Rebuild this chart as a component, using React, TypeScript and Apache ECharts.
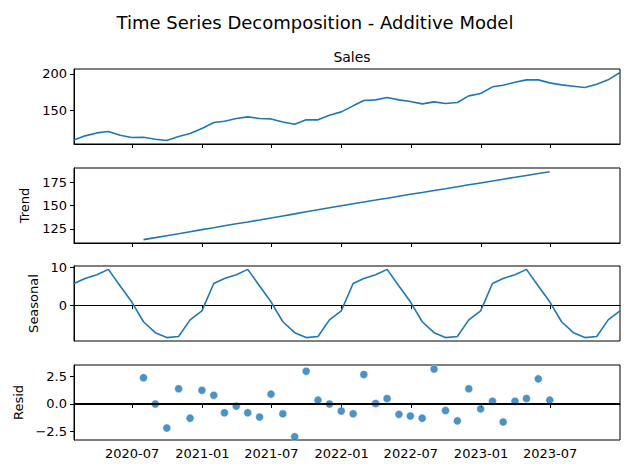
import React, { useRef, useEffect } from 'react'
import * as echarts from 'echarts'

// monthly, month-end dates 2020-01 .. 2023-12
const dates: string[] = []
for (let y = 2020; y <= 2023; y++) {
  for (let m = 1; m <= 12; m++) {
    const d = new Date(Date.UTC(y, m, 0))
    dates.push(d.toISOString().slice(0, 10))
  }
}

const sales = [
  110, 115.5, 119.5, 121.4, 116.4, 113.2, 113.6, 110.9, 109.1, 114.5, 118.6, 125.5,
  133.6, 135.5, 139.1, 141.4, 139.1, 138.6, 134.5, 131.4, 137.3, 137.3, 143.6, 148.2,
  156.4, 163.6, 164.5, 167.7, 164.5, 162.3, 159.1, 161.8, 159.5, 160.9, 170, 173.2,
  182.3, 184.5, 188.6, 191.8, 191.8, 187.7, 185, 183.2, 181.4, 185.9, 191.8, 201.8
]

// trend only defined from index 6 to 41
const trendStart = 6
const trend = [
  113.7, 115.8, 117.9, 120, 122.1, 124.3, 126.4, 128.4, 130.5, 132.5, 134.6, 136.7,
  138.9, 141.1, 143.3, 145.4, 147.6, 149.8, 151.8, 153.8, 155.8, 157.8, 159.9, 161.9,
  163.9, 165.9, 167.9, 170, 172, 174, 176, 178, 180, 182, 184, 186
]

const seasonalCycle = [5.75, 7.1, 8.1, 9.5, 5.1, 0.9, -4.4, -7.3, -8.6, -8.3, -3.9, -1.5]

const resid = [
  2.4, 0, -2.2, 1.4, -1.3, 1.25, 0.8, -0.8, -0.2, -0.8, -1.2, 0.9,
  -0.9, -3.0, 3.0, 0.35, 0, -0.65, -0.9, 2.7, 0.05, 0.5, -0.95, -1.1,
  -1.3, 3.2, -0.6, -1.55, 1.4, -0.45, 0.25, -1.65, 0.25, 0.5, 2.3, 0.35
]

const xTicks = ['2020-07-01', '2021-01-01', '2021-07-01', '2022-01-01', '2022-07-01', '2023-01-01', '2023-07-01']

const BLUE = '#1f77b4'
const FONT = 'DejaVu Sans'
const ts = (d: string) => new Date(d + 'T00:00:00Z').getTime()

const App: React.FC = () => {
  const chartRef = useRef<HTMLDivElement>(null)

  useEffect(() => {
    document.body.style.margin = '0'
    if (!chartRef.current) return
    const chart = echarts.init(chartRef.current, null, { renderer: 'svg' })

    const tops = [69, 168, 266, 365]
    const grids = tops.map(t => ({
      left: 74, top: t, width: 546, height: 75,
      show: true, borderColor: '#000', borderWidth: 1, backgroundColor: 'transparent'
    }))

    const xMin = ts(dates[0])
    const xMax = ts(dates[dates.length - 1])
    const tickVals = xTicks.map(ts)

    const xAxes = grids.map((_, i) => ({
      type: 'value', gridIndex: i, min: xMin, max: xMax,
      axisLine: { show: true, lineStyle: { color: '#000' } },
      axisTick: { show: true, length: 4, lineStyle: { color: '#000' }, customValues: tickVals },
      axisLabel: {
        show: i === 3, color: '#000', fontSize: 13, fontFamily: FONT, margin: 7,
        customValues: tickVals,
        formatter: (v: number) => {
          const d = new Date(v)
          return d.getUTCFullYear() + '-' + String(d.getUTCMonth() + 1).padStart(2, '0')
        }
      },
      splitLine: { show: false }
    }))

    const yDefs = [
      { min: 104.4, max: 206.6, ticks: [150, 200], name: '', fmt: (v: number) => String(v) },
      { min: 110.1, max: 189.9, ticks: [125, 150, 175], name: 'Trend', fmt: (v: number) => String(v) },
      { min: -9.5, max: 10.4, ticks: [0, 10], name: 'Seasonal', fmt: (v: number) => String(v) },
      { min: -3.3, max: 3.57, ticks: [-2.5, 0, 2.5], name: 'Resid', fmt: (v: number) => (v < 0 ? '−' : '') + Math.abs(v).toFixed(1) }
    ]
    const yAxes = yDefs.map((y, i) => ({
      type: 'value', gridIndex: i, min: y.min, max: y.max,
      name: y.name, nameLocation: 'middle', nameGap: i === 2 ? 30 : 42, nameRotate: 90,
      nameTextStyle: { color: '#000', fontSize: 13, fontFamily: FONT },
      axisLine: { show: true, lineStyle: { color: '#000' } },
      axisTick: { show: true, length: 4, lineStyle: { color: '#000' }, customValues: y.ticks },
      axisLabel: { color: '#000', fontSize: 13, fontFamily: FONT, margin: 7, customValues: y.ticks, formatter: y.fmt },
      splitLine: { show: false }
    }))

    const lineStyle = { color: BLUE, width: 1.6 }
    const option = {
      animation: false,
      title: [
        { text: 'Time Series Decomposition - Additive Model', left: 'center', top: 8,
          textStyle: { fontSize: 18, fontWeight: 'normal', color: '#000', fontFamily: FONT } },
        { text: 'Sales', left: 347, top: 45, textAlign: 'center',
          textStyle: { fontSize: 14, fontWeight: 'normal', color: '#000', fontFamily: FONT } }
      ],
      grid: grids,
      xAxis: xAxes,
      yAxis: yAxes,
      series: [
        { type: 'line', xAxisIndex: 0, yAxisIndex: 0, showSymbol: false, lineStyle,
          data: dates.map((d, i) => [ts(d), sales[i]]) },
        { type: 'line', xAxisIndex: 1, yAxisIndex: 1, showSymbol: false, lineStyle,
          data: trend.map((v, i) => [ts(dates[trendStart + i]), v]) },
        { type: 'line', xAxisIndex: 2, yAxisIndex: 2, showSymbol: false, lineStyle,
          data: dates.map((d, i) => [ts(d), seasonalCycle[i % 12]]) },
        { type: 'scatter', xAxisIndex: 3, yAxisIndex: 3, symbolSize: 8,
          itemStyle: { color: BLUE, borderColor: '#fff', borderWidth: 0.5 },
          data: resid.map((v, i) => [ts(dates[trendStart + i]), v]),
          markLine: { silent: true, symbol: 'none', label: { show: false },
            lineStyle: { color: '#000', width: 2, type: 'solid' }, data: [{ yAxis: 0 }] } }
      ]
    }

    chart.setOption(option)
    return () => chart.dispose()
  }, [])

  return <div ref={chartRef} style={{ width: 630, height: 475 }} />
}

export default App
